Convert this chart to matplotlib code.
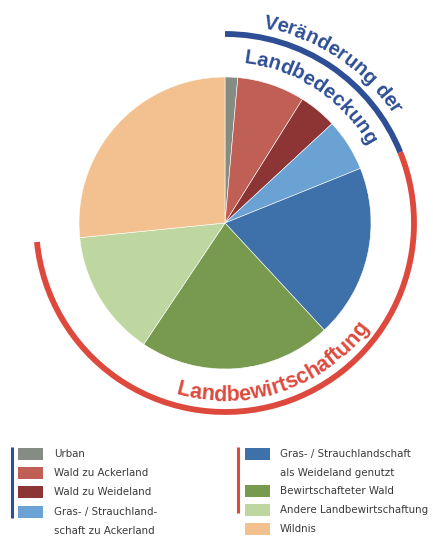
import numpy as np
import matplotlib
matplotlib.use("Agg")
from matplotlib import pyplot as plt
from matplotlib.patches import Arc, Rectangle
from matplotlib.font_manager import FontProperties

# Shares of the pie, clockwise from 12 o'clock (percent).
labels = [
    "Urban",
    "Wald zu Ackerland",
    "Wald zu Weideland",
    "Gras- / Strauchland-\nschaft zu Ackerland",
    "Gras- / Strauchlandschaft\nals Weideland genutzt",
    "Bewirtschafteter Wald",
    "Andere Landbewirtschaftung",
    "Wildnis",
]
shares = [1.4, 7.5, 4.2, 5.8, 19.2, 21.3, 14.0, 26.6]
colors = ["#858c84", "#bf5f55", "#8d3535", "#6aa2d3",
          "#3e70aa", "#789a4f", "#bed7a0", "#f2c18f"]

# Which slices each group arc spans (start index, end index exclusive).
groups = [("Veränderung der", "Landbedeckung", 0, 4, "#2e4f95"),
          ("Landbewirtschaftung", None, 4, 7, "#dd4a3d")]

W, H = 433, 536
fig = plt.figure(figsize=(W / 100, H / 100), dpi=100)
ax = fig.add_axes([0, 0, 1, 1])
ax.axis("off")

CX, CY = 225, H - 223
R_PIE = 146
R_ARC = 189

ax.pie(shares, colors=colors, center=(CX, CY), radius=R_PIE,
       startangle=90, counterclock=False,
       wedgeprops=dict(edgecolor="white", linewidth=0.4))
ax.set_xlim(0, W)
ax.set_ylim(0, H)
ax.set_aspect("equal")

fractions = np.array(shares) / sum(shares)
cum = np.concatenate([[0], np.cumsum(fractions)]) * 360  # clockwise from top

renderer = fig.canvas.get_renderer()


def text_width(s, prop):
    w, _, _ = renderer.get_text_width_height_descent(s, prop, ismath=False)
    return w


def arc_text(s, r, theta_mid, color, size, outward=True):
    # place characters one by one along a circle (theta clockwise from top)
    prop = FontProperties(family=["Liberation Sans", "DejaVu Sans"], weight="bold", size=size)
    total = text_width(s, prop)
    span = np.degrees(total / r)
    for i, ch in enumerate(s):
        c = (text_width(s[:i], prop) + text_width(s[:i + 1], prop)) / 2
        d = np.degrees(c / r)
        if outward:
            th = theta_mid - span / 2 + d
            rot = -th
        else:
            th = theta_mid + span / 2 - d
            rot = 180 - th
        t = np.radians(th)
        ax.text(CX + r * np.sin(t), CY + r * np.cos(t), ch, color=color,
                fontproperties=prop, rotation=rot, rotation_mode="anchor",
                ha="center", va="baseline")


for outer, inner, i0, i1, col in groups:
    a0, a1 = cum[i0], cum[i1]
    ax.add_patch(Arc((CX, CY), 2 * R_ARC, 2 * R_ARC, theta1=90 - a1, theta2=90 - a0,
                     color=col, lw=4.2, capstyle="butt"))
    mid = (a0 + a1) / 2
    if inner is not None:
        arc_text(outer, 199, mid, col, 14.5, outward=True)
        arc_text(inner, 161, mid, col, 14.5, outward=True)
    else:
        arc_text(outer, 178, 161, col, 15.5, outward=False)

# Legend
leg_prop = FontProperties(family="DejaVu Sans", stretch="condensed", size=8.2)
left_rows = [454, 473, 492, 512]
right_rows = [454, 491, 510, 529]


def legend_item(x_sw, x_txt, y, color, txt):
    ax.add_patch(Rectangle((x_sw, H - y - 6), 25, 12, color=color, lw=0))
    for n, line in enumerate(txt.split("\n")):
        ax.text(x_txt, H - y - 18.5 * n, line, color="#3a3a3a",
                va="center", fontproperties=leg_prop)


for k, y in enumerate(left_rows):
    legend_item(18, 54, y, colors[k], labels[k])
for k, y in enumerate(right_rows):
    legend_item(245, 280, y, colors[k + 4], labels[k + 4])

ax.plot([12, 12], [H - 447, H - 518], color="#2e4f95", lw=2.2, solid_capstyle="butt")
ax.plot([238, 238], [H - 447, H - 513], color="#dd4a3d", lw=2.2, solid_capstyle="butt")

fig.savefig("out.png", dpi=100)
